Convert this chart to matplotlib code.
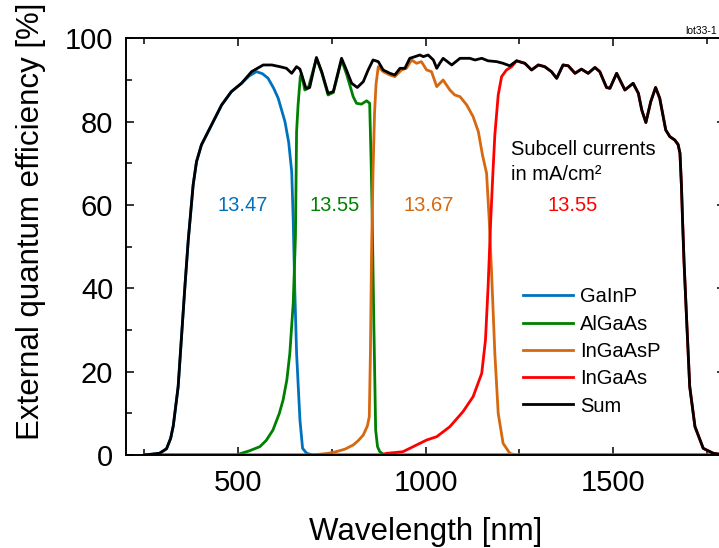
import numpy as np
import matplotlib

matplotlib.use("Agg")
import matplotlib.pyplot as plt
from matplotlib.ticker import MultipleLocator

plt.rcParams["font.family"] = ["Liberation Sans", "DejaVu Sans"]

# EQE spectra of the four subcells and their sum (wavelength in nm, EQE in %)
gainp_wl = [250, 290, 309, 320, 327, 340, 349, 358, 367, 380, 389, 402, 420, 438, 456, 482, 509,
            530, 549, 565, 580, 595, 607, 625, 635, 643, 647, 651, 656, 665, 672, 683, 700, 1800]
gainp_eqe = [0, 0.4, 1.5, 4, 7, 16.4, 28.4, 40.4, 51.6, 64.8, 70.4, 74.4, 77.6, 80.8, 84, 87.2, 89.2,
             91, 92, 91.5, 90.4, 88, 85.6, 80, 75, 68, 56.4, 40.4, 24.4, 8.4, 1.6, 0.4, 0, 0]

algaas_wl = [250, 500, 505, 530, 558, 575, 593, 610, 620, 630, 638, 647, 653, 656, 660, 666, 669,
             678, 687, 709, 723, 740, 754, 776, 789, 798, 807, 816, 829, 843, 851, 855, 858, 862,
             867, 872, 878, 890, 1800]
algaas_eqe = [0, 0, 0.3, 1, 2, 3.5, 6, 10, 13.2, 18, 24.4, 36.4, 52.4, 77.6, 84, 90.8, 91.5,
              87.6, 88, 95.2, 91.8, 86.4, 87, 94.8, 91.5, 88.8, 86, 84.4, 84.2, 85, 84.4, 70, 56.4, 32.4,
              6, 2, 0.8, 0, 0]

ingaasp_wl = [250, 700, 709, 740, 762, 785, 807, 820, 834, 845, 850, 853, 856, 860, 864, 868, 874,
              887, 905, 918, 936, 949, 963, 976, 989, 1003, 1016, 1030, 1047, 1065, 1078, 1092, 1110,
              1127, 1141, 1152, 1163, 1170, 1176, 1185, 1194, 1207, 1225, 1240, 1800]
ingaasp_eqe = [0, 0, 0.1, 0.4, 0.8, 1.4, 2.4, 3.4, 4.8, 7, 9.2, 24.4, 48.4, 68, 82, 89, 93.2,
               92, 91.2, 90.8, 92.4, 92.8, 94.8, 94, 94.4, 92.4, 92, 88.4, 90, 87.6, 86.4, 86, 84,
               81.2, 77.6, 72, 67.6, 56.4, 44.4, 24.4, 10, 2.8, 0.4, 0, 0]

sum_wl = np.array([250, 290, 309, 320, 327, 340, 349, 358, 367, 380, 389, 402, 420, 438, 456, 482,
                   509, 536, 567, 590, 611, 629, 643, 656, 665, 681, 691, 709, 723, 740, 754, 776,
                   789, 803, 818, 834, 847, 860, 874, 887, 905, 918, 932, 945, 958, 972, 985, 994,
                   1007, 1021, 1030, 1038, 1047, 1070, 1092, 1118, 1132, 1150, 1167, 1190, 1207,
                   1225, 1243, 1265, 1283, 1301, 1318, 1336, 1350, 1367, 1381, 1399, 1416, 1434,
                   1452, 1465, 1483, 1492, 1510, 1532, 1554, 1568, 1577, 1588, 1601, 1614, 1625,
                   1641, 1652, 1665, 1674, 1679, 1683, 1686, 1690, 1697, 1705, 1719, 1741, 1768,
                   1800])
sum_eqe = np.array([0, 0.4, 1.5, 4, 7, 16.4, 28.4, 40.4, 51.6, 64.8, 70.4, 74.4, 77.6, 80.8, 84, 87.2,
                    89.2, 92, 93.6, 93.6, 93.2, 92.8, 91.6, 93.2, 92.6, 88, 88.2, 95.4, 92, 86.8, 87.2, 95.2,
                    92.4, 89.2, 88.2, 89.6, 92.4, 94.8, 94.4, 92.4, 91.6, 91.2, 92.8, 92.8, 95.2, 95.6, 96, 95.6,
                    96, 94.8, 92.8, 94, 95.2, 93.6, 95.2, 95.2, 94.8, 95.2, 94.6, 94.4, 94,
                    93.4, 94.6, 94, 92.4, 93.6, 93.2, 92, 90.4, 93.6, 93.4, 91.6, 92.6, 91.6,
                    93, 92, 88.2, 88, 91.6, 87.6, 89.2, 86.8, 82.8, 79.8, 84.8, 88.2, 85.6,
                    78, 76.4, 75.6, 74.5, 72.4, 64.4, 56, 46, 32, 16.4, 6.8, 1.6, 0.4,
                    0])

# InGaAs rising edge; beyond ~1243 nm it is the only contributing subcell
ingaas_edge_wl = [250, 880, 896, 920, 940, 967, 1003, 1030, 1065, 1100, 1127, 1150, 1160, 1167, 1174,
                  1180, 1185, 1194, 1203, 1216, 1230]
ingaas_edge_eqe = [0, 0, 0.4, 0.6, 0.8, 2, 3.6, 4.4, 6.8, 10.4, 14, 19.6, 27.6, 40.4, 56.4,
                   68, 76.8, 86.4, 90.8, 92.4, 93.2]
tail = sum_wl >= 1243
ingaas_wl = np.concatenate([ingaas_edge_wl, sum_wl[tail]])
ingaas_eqe = np.concatenate([ingaas_edge_eqe, sum_eqe[tail]])

labels = ["GaInP", "AlGaAs", "InGaAsP", "InGaAs", "Sum"]
colors = ["#0072BD", "#008000", "#D6680F", "#FF0000", "#000000"]
currents = ["13.47", "13.55", "13.67", "13.55"]
current_wl = [511, 757, 1009, 1392]

fig = plt.figure(figsize=(7.19, 5.48), dpi=100)
ax = fig.add_axes([0.1748, 0.1697, 0.834, 0.7604])

series = [(gainp_wl, gainp_eqe), (algaas_wl, algaas_eqe), (ingaasp_wl, ingaasp_eqe),
          (ingaas_wl, ingaas_eqe), (sum_wl, sum_eqe)]
for (wl, eqe), label, color in zip(series, labels, colors):
    ax.plot(wl, eqe, color=color, lw=2.0, label=label)

for wl, text, color in zip(current_wl, currents, colors):
    ax.text(wl, 59.8, text, color=color, fontsize=14.5, ha="center", va="center")

ax.text(1229, 72, "Subcell currents", fontsize=14.5, va="baseline")
ax.text(1229, 66, "in mA/cm²", fontsize=14.5, va="baseline")
fig.text(717 / 719, 0.938, "lot33-1", fontsize=7.5, ha="right", va="baseline")

ax.set_xlim(200, 1800)
ax.set_ylim(0, 100)
ax.xaxis.set_major_locator(MultipleLocator(500))
ax.xaxis.set_minor_locator(MultipleLocator(250))
ax.yaxis.set_major_locator(MultipleLocator(20))
ax.yaxis.set_minor_locator(MultipleLocator(10))
ax.tick_params(which="both", direction="in", top=True, right=True, width=1.1, labelsize=21)
ax.tick_params(which="major", length=6)
ax.tick_params(which="minor", length=4)
ax.tick_params(axis="x", pad=10)
ax.tick_params(axis="y", pad=9)
for spine in ax.spines.values():
    spine.set_linewidth(1.4)

ax.set_xlabel("Wavelength [nm]", fontsize=22.5)
ax.xaxis.set_label_coords(0.5, -0.149)
ax.set_ylabel("External quantum efficiency [%]", fontsize=22.5)
ax.yaxis.set_label_coords(-0.133, 0.562)

ax.legend(loc="upper left", bbox_to_anchor=(0.6625, 0.402), frameon=False, fontsize=14.5,
          handlelength=2.48, handletextpad=0.35, labelspacing=0.41, borderpad=0, borderaxespad=0)

fig.savefig("out.png", dpi=100)
